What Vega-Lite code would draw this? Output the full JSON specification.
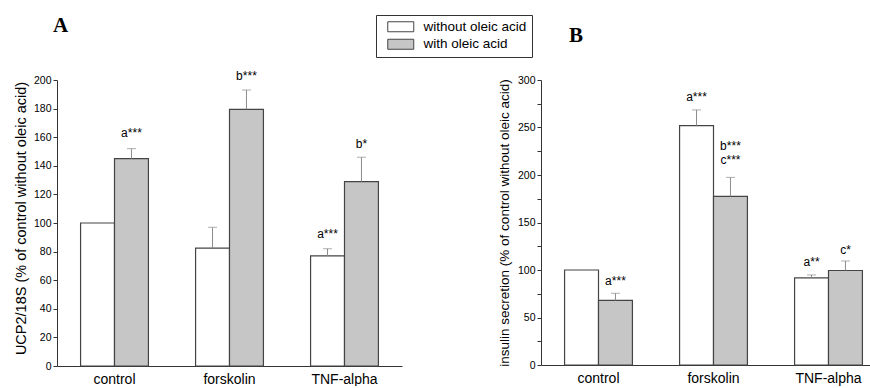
{
  "$schema": "https://vega.github.io/schema/vega-lite/v6.json",
  "background": "white",
  "padding": {"left": 13, "top": 14, "right": 0, "bottom": 0},
  "spacing": 95,
  "config": {
    "font": "Liberation Sans",
    "view": {"stroke": null},
    "axis": {"grid": false, "domainColor": "#333", "tickColor": "#333", "labelColor": "black", "titleColor": "black", "labelFont": "Liberation Sans", "titleFont": "Liberation Sans", "titleFontWeight": "normal", "labelOverlap": false},
    "axisY": {"labelOverlap": false, "labelSeparation": 0},
    "legend": {"orient": "none", "legendX": 319, "legendY": -65, "direction": "vertical", "strokeColor": "#333", "padding": 5, "symbolType": "M-2.6,-1H2.6V1H-2.6Z", "symbolSize": 100, "symbolOffset": 13, "symbolStrokeColor": "#444", "symbolStrokeWidth": 1, "labelFontSize": 13.5, "labelFont": "Liberation Sans", "labelColor": "black", "rowPadding": 2.5, "labelOffset": 16}
  },
  "datasets": {
    "a_bars": [
      {"treatment": "control", "oleic": "without oleic acid", "value": 100, "upper": null},
      {"treatment": "control", "oleic": "with oleic acid", "value": 145, "upper": 152},
      {"treatment": "forskolin", "oleic": "without oleic acid", "value": 82.5, "upper": 97},
      {"treatment": "forskolin", "oleic": "with oleic acid", "value": 179.5, "upper": 193},
      {"treatment": "TNF-alpha", "oleic": "without oleic acid", "value": 77, "upper": 82},
      {"treatment": "TNF-alpha", "oleic": "with oleic acid", "value": 129, "upper": 146}
    ],
    "a_labels": [
      {"treatment": "control", "oleic": "with oleic acid", "label": "a***", "pos": 163},
      {"treatment": "forskolin", "oleic": "with oleic acid", "label": "b***", "pos": 203},
      {"treatment": "TNF-alpha", "oleic": "with oleic acid", "label": "b*", "pos": 155},
      {"treatment": "TNF-alpha", "oleic": "without oleic acid", "label": "a***", "pos": 92}
    ],
    "b_bars": [
      {"treatment": "control", "oleic": "without oleic acid", "value": 100, "upper": null},
      {"treatment": "control", "oleic": "with oleic acid", "value": 68, "upper": 75.5},
      {"treatment": "forskolin", "oleic": "without oleic acid", "value": 252, "upper": 268.5},
      {"treatment": "forskolin", "oleic": "with oleic acid", "value": 177.5, "upper": 197.5},
      {"treatment": "TNF-alpha", "oleic": "without oleic acid", "value": 91.8, "upper": 94.8},
      {"treatment": "TNF-alpha", "oleic": "with oleic acid", "value": 99.5, "upper": 109.5}
    ],
    "b_labels": [
      {"treatment": "control", "oleic": "with oleic acid", "label": "a***", "pos": 88},
      {"treatment": "forskolin", "oleic": "without oleic acid", "label": "a***", "pos": 282},
      {"treatment": "forskolin", "oleic": "with oleic acid", "label": "b***", "pos": 231},
      {"treatment": "forskolin", "oleic": "with oleic acid", "label": "c***", "pos": 216},
      {"treatment": "TNF-alpha", "oleic": "without oleic acid", "label": "a**", "pos": 108.5},
      {"treatment": "TNF-alpha", "oleic": "with oleic acid", "label": "c*", "pos": 121}
    ]
  },
  "hconcat": [
    {
      "width": 345,
      "height": 286,
      "title": {"text": "A", "font": "Liberation Serif", "fontSize": 21, "fontWeight": "bold", "anchor": "start", "frame": "group", "dx": -4, "offset": 34, "color": "black"},
      "encoding": {
        "x": {"field": "treatment", "type": "nominal", "sort": ["control", "forskolin", "TNF-alpha"], "scale": {"paddingInner": 0.41, "paddingOuter": 0.205}, "axis": {"title": null, "ticks": false, "labelAngle": 0, "labelFontSize": 14, "labelPadding": 6, "domainColor": "#333"}},
        "xOffset": {"field": "oleic", "type": "nominal", "sort": ["without oleic acid", "with oleic acid"], "scale": {"paddingInner": 0, "paddingOuter": 0}}
      },
      "layer": [
        {
          "data": {"name": "a_bars"},
          "mark": {"type": "bar", "stroke": "#444", "strokeWidth": 1.2},
          "encoding": {
            "y": {"field": "value", "type": "quantitative", "scale": {"domain": [0, 200], "nice": false}, "axis": {"title": "UCP2/18S (% of control without oleic acid)", "titleFontSize": 14.5, "titlePadding": 5, "titleY": 138, "values": [0, 20, 40, 60, 80, 100, 120, 140, 160, 180, 200], "labelOverlap": false, "tickSize": 4, "labelFontSize": 10.5, "labelPadding": 2}},
            "color": {"field": "oleic", "type": "nominal", "sort": ["without oleic acid", "with oleic acid"], "scale": {"domain": ["without oleic acid", "with oleic acid"], "range": ["#ffffff", "#c6c6c6"]}, "legend": {"title": null}}
          }
        },
        {
          "data": {"name": "a_bars"},
          "transform": [{"filter": "datum.upper != null"}],
          "mark": {"type": "rule", "color": "#8c8c8c", "strokeWidth": 1},
          "encoding": {"y": {"field": "value", "type": "quantitative", "axis": {"title": "UCP2/18S (% of control without oleic acid)", "titleFontSize": 14.5, "titlePadding": 5, "titleY": 138, "values": [0, 20, 40, 60, 80, 100, 120, 140, 160, 180, 200], "labelOverlap": false, "tickSize": 4, "labelFontSize": 10.5, "labelPadding": 2}}, "y2": {"field": "upper"}}
        },
        {
          "data": {"name": "a_bars"},
          "transform": [{"filter": "datum.upper != null"}],
          "mark": {"type": "tick", "color": "#8c8c8c", "size": 9, "thickness": 1},
          "encoding": {"y": {"field": "upper", "type": "quantitative", "axis": {"title": "UCP2/18S (% of control without oleic acid)", "titleFontSize": 14.5, "titlePadding": 5, "titleY": 138, "values": [0, 20, 40, 60, 80, 100, 120, 140, 160, 180, 200], "labelOverlap": false, "tickSize": 4, "labelFontSize": 10.5, "labelPadding": 2}}}
        },
        {
          "data": {"name": "a_labels"},
          "mark": {"type": "text", "fontSize": 12, "color": "black", "baseline": "middle", "align": "center"},
          "encoding": {"y": {"field": "pos", "type": "quantitative", "axis": {"title": "UCP2/18S (% of control without oleic acid)", "titleFontSize": 14.5, "titlePadding": 5, "titleY": 138, "values": [0, 20, 40, 60, 80, 100, 120, 140, 160, 180, 200], "labelOverlap": false, "tickSize": 4, "labelFontSize": 10.5, "labelPadding": 2}}, "text": {"field": "label"}}
        }
      ]
    },
    {
      "width": 345,
      "height": 285,
      "title": {"text": "B", "font": "Liberation Serif", "fontSize": 21, "fontWeight": "bold", "anchor": "start", "frame": "group", "dx": 28, "offset": 29, "color": "black"},
      "encoding": {
        "x": {"field": "treatment", "type": "nominal", "sort": ["control", "forskolin", "TNF-alpha"], "scale": {"paddingInner": 0.41, "paddingOuter": 0.205}, "axis": {"title": null, "ticks": false, "labelAngle": 0, "labelFontSize": 14, "labelPadding": 6, "domainColor": "#333"}},
        "xOffset": {"field": "oleic", "type": "nominal", "sort": ["without oleic acid", "with oleic acid"], "scale": {"paddingInner": 0, "paddingOuter": 0}}
      },
      "layer": [
        {
          "data": {"name": "b_bars"},
          "mark": {"type": "bar", "stroke": "#444", "strokeWidth": 1.2},
          "encoding": {
            "y": {"field": "value", "type": "quantitative", "scale": {"domain": [0, 300], "nice": false}, "axis": {"title": "insulin secretion (% of control without oleic acid)", "titleFontSize": 13.5, "titlePadding": 6, "values": [0, 25, 50, 75, 100, 125, 150, 175, 200, 225, 250, 275, 300], "labelExpr": "datum.value % 50 === 0 ? datum.label : ''", "tickSize": 4, "labelFontSize": 10.5, "labelPadding": 2}},
            "color": {"field": "oleic", "type": "nominal", "sort": ["without oleic acid", "with oleic acid"], "scale": {"domain": ["without oleic acid", "with oleic acid"], "range": ["#ffffff", "#c6c6c6"]}, "legend": {"title": null}}
          }
        },
        {
          "data": {"name": "b_bars"},
          "transform": [{"filter": "datum.upper != null"}],
          "mark": {"type": "rule", "color": "#8c8c8c", "strokeWidth": 1},
          "encoding": {"y": {"field": "value", "type": "quantitative", "axis": {"title": "insulin secretion (% of control without oleic acid)", "titleFontSize": 13.5, "titlePadding": 6, "values": [0, 25, 50, 75, 100, 125, 150, 175, 200, 225, 250, 275, 300], "labelExpr": "datum.value % 50 === 0 ? datum.label : ''", "tickSize": 4, "labelFontSize": 10.5, "labelPadding": 2}}, "y2": {"field": "upper"}}
        },
        {
          "data": {"name": "b_bars"},
          "transform": [{"filter": "datum.upper != null"}],
          "mark": {"type": "tick", "color": "#8c8c8c", "size": 9, "thickness": 1},
          "encoding": {"y": {"field": "upper", "type": "quantitative", "axis": {"title": "insulin secretion (% of control without oleic acid)", "titleFontSize": 13.5, "titlePadding": 6, "values": [0, 25, 50, 75, 100, 125, 150, 175, 200, 225, 250, 275, 300], "labelExpr": "datum.value % 50 === 0 ? datum.label : ''", "tickSize": 4, "labelFontSize": 10.5, "labelPadding": 2}}}
        },
        {
          "data": {"name": "b_labels"},
          "mark": {"type": "text", "fontSize": 12, "color": "black", "baseline": "middle", "align": "center"},
          "encoding": {"y": {"field": "pos", "type": "quantitative", "axis": {"title": "insulin secretion (% of control without oleic acid)", "titleFontSize": 13.5, "titlePadding": 6, "values": [0, 25, 50, 75, 100, 125, 150, 175, 200, 225, 250, 275, 300], "labelExpr": "datum.value % 50 === 0 ? datum.label : ''", "tickSize": 4, "labelFontSize": 10.5, "labelPadding": 2}}, "text": {"field": "label"}}
        }
      ]
    }
  ]
}
